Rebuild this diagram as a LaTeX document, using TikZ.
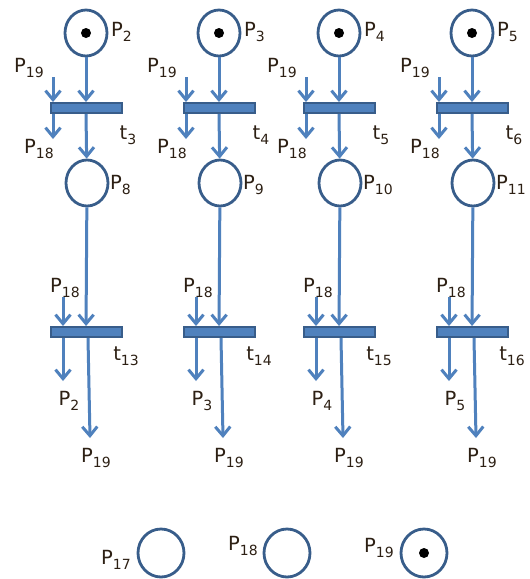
\documentclass[tikz,border=0pt]{standalone}
\usepackage{fontspec}
\setmainfont{DejaVu Sans}
\usetikzlibrary{arrows.meta,shapes.geometric}
\definecolor{arc}{RGB}{79,129,189}
\definecolor{edge}{RGB}{56,93,138}
\definecolor{txt}{RGB}{45,32,20}
\newcommand{\lbl}[2]{#1\raisebox{-5.5pt}{\fontsize{14}{14}\selectfont #2}}
\begin{document}
\begin{tikzpicture}[x=1pt,y=-1pt,
  place/.style={ellipse,draw=edge,fill=white,line width=2.8pt,minimum width=42pt,minimum height=46pt,inner sep=0pt},
  token/.style={circle,fill=black,minimum size=10pt,inner sep=0pt},
  trans/.style={rectangle,draw=edge,fill=arc,line width=2pt,minimum width=71pt,minimum height=10pt,inner sep=0pt},
  arcln/.style={draw=arc,line width=3pt,-{Straight Barb[length=9pt,width=15pt,line width=3pt]}},
  lab/.style={text=txt,font=\fontsize{19.5}{22}\selectfont,inner sep=0pt}]
\useasboundingbox[fill=white] (0,0) rectangle (530,579);
\foreach \cx/\a/\b/\ta/\tb/\n in {86/2/8/3/13/1, 219/3/9/4/14/2, 339/4/10/5/15/3, 472/5/11/6/16/4}{
  % top place
  \node[place] (pa\n) at (\cx,33) {};
  \node[token] (tk\n) at (pa\n.center) {};
  \node[lab,anchor=west] (lpa\n) at (\cx+25,32) {\lbl{P}{\a}};
  % top transition
  \node[trans] (ta\n) at (\cx,108) {};
  \node[lab] (lta\n) at (\cx+42,135) {\lbl{t}{\ta}};
  \coordinate (in19\n) at (\cx-33,77);
  \coordinate (out18\n) at (\cx-33,139);
  \node[lab] (l19a\n) at (\cx-57,68) {\lbl{P}{19}};
  \node[lab] (l18a\n) at (\cx-47,149) {\lbl{P}{18}};
  % middle place
  \node[place] (pb\n) at (\cx+1,183) {};
  \node[lab,anchor=west] (lpb\n) at (\cx+24,185) {\lbl{P}{\b}};
  % lower transition
  \node[trans] (tb\n) at (\cx,332) {};
  \node[lab] (ltb\n) at (\cx+40,356) {\lbl{t}{\tb}};
  \coordinate (in18\n) at (\cx-23,297);
  \coordinate (outp\n) at (\cx-23,381);
  \coordinate (out19\n) at (\cx+4,438);
  \node[lab] (l18b\n) at (\cx-21,288) {\lbl{P}{18}};
  \node[lab] (lpo\n) at (\cx-17,401) {\lbl{P}{\a}};
  \node[lab] (l19b\n) at (\cx+10,458) {\lbl{P}{19}};
  % arcs
  \draw[arcln] (pa\n) -- (ta\n);
  \draw[arcln] (in19\n) -- (in19\n |- ta\n.north);
  \draw[arcln] (out18\n |- ta\n.south) -- (out18\n);
  \draw[arcln] (ta\n.south) -- (pb\n);
  \draw[arcln] (pb\n) -- (tb\n);
  \draw[arcln] (in18\n) -- (in18\n |- tb\n.north);
  \draw[arcln] (outp\n |- tb\n.south) -- (outp\n);
  \draw[arcln] ([xshift=2pt]tb\n.south) -- (out19\n);
}
% legend places
\node[place,minimum width=46pt,minimum height=48pt] (p17) at (161,553) {};
\node[lab] (l17) at (116,560) {\lbl{P}{17}};
\node[place,minimum width=46pt,minimum height=48pt] (p18) at (287,553) {};
\node[lab] (l18) at (243,546) {\lbl{P}{18}};
\node[place,minimum width=46pt,minimum height=48pt] (p19) at (424,553) {};
\node[token] (tk19) at (p19.center) {};
\node[lab] (l19) at (379,548) {\lbl{P}{19}};
\end{tikzpicture}
\end{document}
